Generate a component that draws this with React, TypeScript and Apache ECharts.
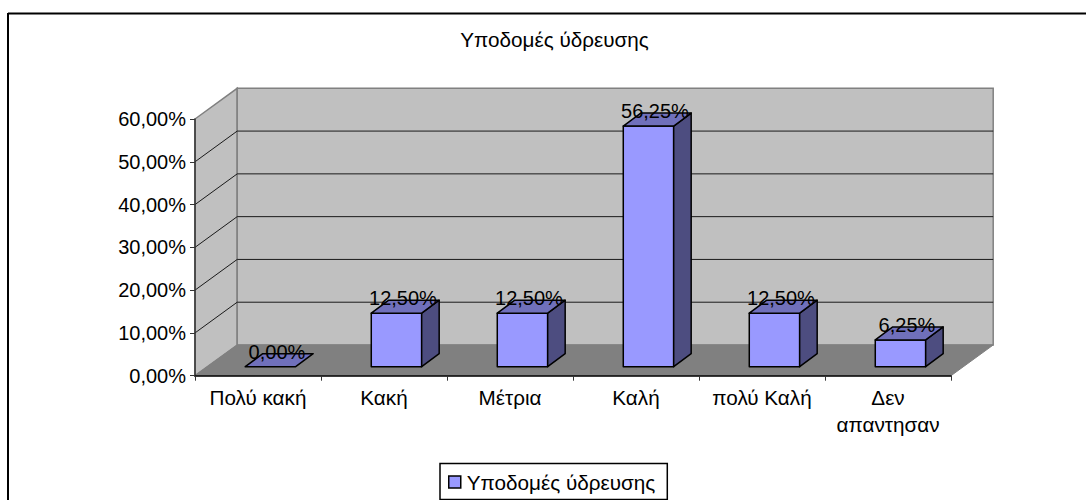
import React, { useEffect, useRef } from "react";
import * as echarts from "echarts";

const TITLE = "Υποδομές ύδρευσης";
const categories = ["Πολύ κακή", "Κακή", "Μέτρια", "Καλή", "πολύ Καλή", "Δεν\nαπαντησαν"];
const values = [0, 12.5, 12.5, 56.25, 12.5, 6.25];
const yTicks = [0, 10, 20, 30, 40, 50, 60];

const FONT = "'Liberation Sans', Arial, sans-serif";
const NUM_SIZE = 20;
const TEXT_SIZE = 20.7;
const WALL_DX = 42.2;
const WALL_DY = 30.7;
const pct = (v: number) => v.toFixed(2).replace(".", ",") + "%";

function renderWalls(params: any, api: any) {
  const { x, y, width, height } = params.coordSys;
  const l = x, r = x + width, t = y, b = y + height;
  const dx = WALL_DX, dy = WALL_DY;
  const wallStyle = { fill: "#c0c0c0", stroke: "#808080", lineWidth: 1.5 };
  const children: any[] = [
    { type: "polygon", shape: { points: [[l, t], [l + dx, t - dy], [l + dx, b - dy], [l, b]] }, style: wallStyle },
    { type: "polygon", shape: { points: [[l + dx, t - dy], [r + dx, t - dy], [r + dx, b - dy], [l + dx, b - dy]] }, style: wallStyle },
    { type: "polygon", shape: { points: [[l + dx, b - dy], [r + dx, b - dy], [r, b], [l, b]] }, style: { fill: "#808080", stroke: "#808080", lineWidth: 1 } },
  ];
  yTicks.slice(1, -1).forEach((tick) => {
    const py = api.coord([0, tick])[1];
    const stroke = "#1a1a1a";
    children.push({ type: "line", shape: { x1: l, y1: py, x2: l + dx, y2: py - dy }, style: { stroke, lineWidth: 1 } });
    children.push({ type: "line", shape: { x1: l + dx, y1: py - dy, x2: r + dx, y2: py - dy }, style: { stroke, lineWidth: 1 } });
  });
  return { type: "group", children };
}

function renderBar(params: any, api: any) {
  const idx = api.value(0);
  const val = api.value(1);
  const band = api.size([1, 0])[0];
  const shift = band * 0.099;
  const w = band * 0.4;
  const sx = 17.5, sy = 13, lift = 9;
  const cx = api.coord([idx, 0])[0] + shift;
  const yBase = api.coord([idx, 0])[1] - lift;
  const yTop = api.coord([idx, val])[1] - lift;
  const x0 = cx - w / 2, x1 = cx + w / 2;
  const edge = { stroke: "#000", lineWidth: 1.5, lineJoin: "round" };
  const children: any[] = [];
  if (val > 0) {
    children.push({ type: "polygon", shape: { points: [[x0, yBase], [x1, yBase], [x1, yTop], [x0, yTop]] }, style: { fill: "#9999ff", ...edge } });
    children.push({ type: "polygon", shape: { points: [[x1, yBase], [x1 + sx, yBase - sy], [x1 + sx, yTop - sy], [x1, yTop]] }, style: { fill: "#4d4d80", ...edge } });
  }
  children.push({ type: "polygon", shape: { points: [[x0, yTop], [x1, yTop], [x1 + sx, yTop - sy], [x0 + sx, yTop - sy]] }, style: { fill: "#7070bb", ...edge } });
  children.push({
    type: "text",
    style: { text: pct(val), x: cx + 6.5, y: yTop - 15, align: "center", verticalAlign: "middle", fontSize: NUM_SIZE, fontFamily: FONT, fill: "#000" },
  });
  return { type: "group", children };
}

export default function App() {
  const ref = useRef<HTMLDivElement>(null);
  useEffect(() => {
    const chart = echarts.init(ref.current!, null, { renderer: "svg" });
    chart.setOption({
      animation: false,
      backgroundColor: "#fff",
      title: {
        text: TITLE,
        left: 549.5,
        textAlign: "center",
        top: 24,
        textStyle: { fontFamily: FONT, fontSize: TEXT_SIZE, fontWeight: "normal", color: "#000" },
      },
      grid: { left: 195, top: 119, width: 756, height: 256.7, containLabel: false },
      xAxis: {
        type: "category",
        data: categories,
        z: 5,
        axisLine: { lineStyle: { color: "#000", width: 1.5 } },
        axisTick: { show: true, length: 5, lineStyle: { color: "#333", width: 1 } },
        axisLabel: { fontFamily: FONT, fontSize: TEXT_SIZE, color: "#000", margin: 8, lineHeight: 27, interval: 0 },
      },
      yAxis: {
        type: "value",
        min: 0,
        max: 60,
        interval: 10,
        z: 5,
        axisLine: { show: true, lineStyle: { color: "#333", width: 1.5 } },
        axisTick: { show: true, length: 5, lineStyle: { color: "#333", width: 1 } },
        axisLabel: { fontFamily: FONT, fontSize: NUM_SIZE, color: "#000", margin: 9, formatter: (v: number) => pct(v) },
        splitLine: { show: false },
      },
      legend: {
        show: true,
        data: [{ name: TITLE, icon: "rect" }],
        left: 440,
        top: 463.5,
        orient: "horizontal",
        padding: [8, 12, 7, 8],
        itemWidth: 12,
        itemHeight: 12,
        itemGap: 0,
        borderColor: "#000",
        borderWidth: 1.5,
        textStyle: { fontFamily: FONT, fontSize: TEXT_SIZE, color: "#000", padding: [0, 0, 0, 1] },
        itemStyle: { color: "#9999ff", borderColor: "#000", borderWidth: 1.5 },
      },
      series: [
        { type: "custom", name: "walls", silent: true, z: 1, clip: false, renderItem: renderWalls, data: [0] },
        {
          type: "custom",
          name: TITLE,
          z: 2,
          clip: false,
          renderItem: renderBar,
          encode: { x: 0, y: 1 },
          itemStyle: { color: "#9999ff" },
          data: values.map((v, i) => [i, v]),
        },
      ],
      graphic: [
        { type: "line", shape: { x1: 8, y1: 13.5, x2: 1086, y2: 13.5 }, style: { stroke: "#000", lineWidth: 2 } },
        { type: "line", shape: { x1: 8, y1: 13, x2: 8, y2: 500 }, style: { stroke: "#000", lineWidth: 2 } },
      ],
    });
    return () => chart.dispose();
  }, []);
  return <div ref={ref} style={{ position: "fixed", left: 0, top: 0, width: 1086, height: 500 }} />;
}
